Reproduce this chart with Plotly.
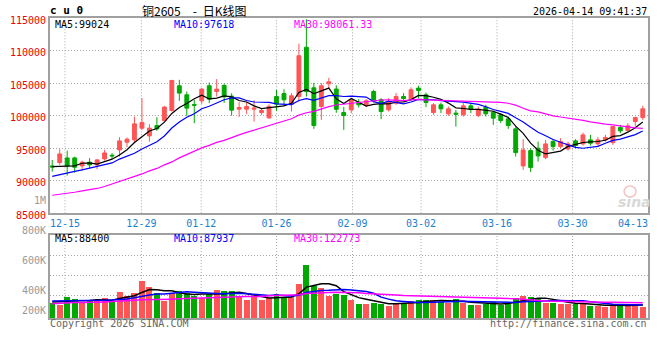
import plotly.graph_objects as go
import pandas as pd

# ---------------- data ----------------
open_ = [92280, 92785, 93508, 93508, 92277, 92846, 92431, 93354, 93923, 94738,
         95923, 96277, 98077, 96892, 98477, 99246, 100785, 104585, 103200, 101700,
         102277, 104585, 103708, 104631, 103000, 101000, 101000, 101000, 100477, 99662,
         102938, 103400, 101738, 102938, 110508, 104277, 101400, 104892, 104092, 100477,
         100892, 102077, 101554, 103708, 102431, 100892, 101923, 102938, 102585, 104231,
         103200, 100477, 101662, 100277, 100385, 100123, 101508, 100015, 101308, 100538,
         100123, 99508, 97969, 92277, 94631, 95000, 93554, 96015, 95246, 94892,
         96123, 95662, 96277, 95662, 96277, 95862, 98169, 97708, 99092, 99708]
high = [93200, 94846, 94631, 93708, 93092, 93462, 93354, 94738, 94231, 96692,
        96631, 99862, 102692, 98692, 99769, 101508, 105508, 105508, 103708, 102431,
        104231, 105092, 105615, 104892, 103431, 102123, 102077, 102354, 101154, 101738,
        103969, 104046, 103462, 111046, 114800, 105046, 105000, 105815, 104662, 101354,
        102692, 102538, 102538, 103969, 102692, 102692, 103462, 103462, 104354, 104585,
        103554, 101923, 102015, 101400, 100892, 101923, 101923, 101400, 101662, 100785,
        100385, 99862, 98323, 96385, 95000, 96015, 96277, 96385, 96538, 96015,
        96385, 97400, 97046, 96692, 97046, 98431, 98585, 98846, 99862, 101508]
low = [91400, 92431, 90785, 91246, 91554, 91862, 91769, 93092, 93354, 93708,
       95154, 95769, 97815, 96015, 97662, 99046, 100631, 102277, 99969, 98846,
       101815, 101923, 102938, 101969, 100000, 99815, 100277, 99092, 100123, 99508,
       100738, 101508, 100631, 102123, 102938, 97969, 99354, 104123, 100431, 97815,
       100385, 101246, 101308, 102015, 99462, 100631, 101662, 102169, 102277, 102692,
       101308, 100123, 100385, 99969, 98323, 99862, 100385, 99769, 99862, 98585,
       98846, 97969, 93708, 91662, 91354, 92938, 93308, 94631, 95000, 94631,
       95000, 95400, 95400, 95354, 96015, 95508, 97308, 97554, 98323, 99354]
close = [92120, 94123, 92277, 92077, 92846, 92431, 93200, 94277, 93815, 96123,
         96385, 98738, 98938, 98077, 97969, 101308, 105400, 103462, 101154, 101600,
         104077, 102538, 104077, 102892, 100846, 101246, 101400, 101154, 100785, 101431,
         101769, 102431, 103046, 109200, 103708, 98477, 104585, 105200, 100969, 100015,
         102431, 101662, 102277, 102277, 100631, 102169, 102938, 102631, 103969, 103862,
         102015, 101662, 101046, 101046, 100231, 101508, 101000, 101000, 100277, 99615,
         99246, 98477, 94323, 94738, 92046, 93815, 95662, 95246, 96015, 95662,
         95400, 97046, 95769, 96277, 96631, 98323, 97662, 98431, 99708, 101046]
volume = [147500, 131000, 210000, 190000, 163000, 170000, 173000, 203000, 167000, 259000,
          223000, 252000, 368000, 309000, 252000, 170000, 252000, 269000, 252000, 220000,
          197000, 240000, 279000, 269000, 269000, 220000, 180000, 213000, 180000, 197000,
          240000, 213000, 213000, 339000, 527000, 319000, 299000, 220000, 240000, 230000,
          180000, 141000, 141000, 153000, 147000, 121000, 147000, 147000, 170000, 180000,
          180000, 180000, 163000, 153000, 187000, 153000, 131000, 131000, 138000, 163000,
          131000, 153000, 203000, 220000, 213000, 197000, 153000, 153000, 141000, 141000,
          141000, 141000, 124000, 124000, 108000, 141000, 124000, 124000, 141000, 114000]

# moving-average values before the window is full
ma5_head = [92169, 92200, 92231, 92277]
ma10_head = [90677, 90892, 91200, 91431, 91662, 91923, 92277, 92508, 92738]
ma30_head = [87769, 87892, 88077, 88231, 88431, 88585, 88815, 89123, 89508, 89815,
             90200, 90585, 91046, 91508, 91892, 92431, 92892, 93508, 94046, 94585,
             95046, 95431, 95892, 96200, 96662, 97046, 97431, 97785, 98154]
vma5_head = [160000, 160000, 163000, 170000]
vma10_head = [168000, 168000, 170000, 170000, 170000, 172000, 172000, 175000, 178000]
vma30_head = [141000, 147000, 153000, 153000, 153000, 153000, 157000, 160000, 163000, 170000,
              173000, 177000, 180000, 180000, 180000, 183000, 187000, 190000, 193000, 197000,
              197000, 200000, 203000, 206000, 210000, 210000, 213000, 213000, 213000]

tick_labels = ["12-15", "12-29", "01-12", "01-26", "02-09", "03-02", "03-16", "03-30", "04-13"]
price_ticks = [85000, 90000, 95000, 100000, 105000, 110000, 115000]
vol_labels = ["1M", "800K", "600K", "400K", "200K"]

# ---------------- styles / layout positions ----------------
RED = "#ff5555"
GREEN = "#00a800"
GRID = "#a8a8a8"
BORDER = "#a0a0a0"
MONO = "DejaVu Sans Mono"
tick_pos = [1.7, 11.93, 19.93, 30.01, 40.17, 49.34, 59.5, 69.61, 77.7]
grid_pos = tick_pos[:8]
XR = [-0.3, 79.7]


def ma(values, w, head):
    s = pd.Series(values, dtype=float).rolling(w).mean()
    s.iloc[:len(head)] = head
    return s.tolist()


n = len(close)
x = list(range(n))
ma5, ma10, ma30 = ma(close, 5, ma5_head), ma(close, 10, ma10_head), ma(close, 30, ma30_head)
vma5, vma10, vma30 = ma(volume, 5, vma5_head), ma(volume, 10, vma10_head), ma(volume, 30, vma30_head)
bar_colors = [RED if c >= o else GREEN for o, c in zip(open_, close)]

fig = go.Figure()
fig.add_trace(go.Candlestick(
    x=x, open=open_, high=high, low=low, close=close,
    increasing=dict(line=dict(color=RED, width=1), fillcolor=RED),
    decreasing=dict(line=dict(color=GREEN, width=1), fillcolor=GREEN),
    xaxis="x", yaxis="y", hoverinfo="skip", showlegend=False))
for vals, col in [(ma5, "#000000"), (ma10, "#0000ff"), (ma30, "#ff00ff")]:
    fig.add_trace(go.Scatter(x=x, y=vals, mode="lines", line=dict(color=col, width=1.2),
                             xaxis="x", yaxis="y", hoverinfo="skip", showlegend=False))
fig.add_trace(go.Bar(x=x, y=volume, marker=dict(color=bar_colors, line=dict(width=0)),
                     width=0.8, xaxis="x2", yaxis="y2", hoverinfo="skip", showlegend=False))
for vals, col in [(vma5, "#000000"), (vma10, "#0000ff"), (vma30, "#ff00ff")]:
    fig.add_trace(go.Scatter(x=x, y=vals, mode="lines", line=dict(color=col, width=1.5),
                             xaxis="x2", yaxis="y2", hoverinfo="skip", showlegend=False))


def PX(p):
    return (p - 50) / 600


def PY(p):
    return (318 - p) / 300


shapes = []
for gx in grid_pos:
    for yr in ["y domain", "y2 domain"]:
        shapes.append(dict(type="line", xref="x", yref=yr, x0=gx, x1=gx, y0=0, y1=1,
                           line=dict(color=GRID, width=1, dash="1px,2px"), layer="below"))
# faint sina logo mark (watermark)
shapes.append(dict(type="circle", xref="paper", yref="paper",
                   x0=PX(626), x1=PX(638), y0=PY(197), y1=PY(186),
                   line=dict(color="#f2c4c4", width=1.5), fillcolor="rgba(0,0,0,0)",
                   layer="below"))

ann = []


def add(text, px, py, anchor, color="#000000", size=10, family=MONO, **kw):
    ann.append(dict(text=text, x=PX(px), y=PY(py), xref="paper", yref="paper",
                    xanchor=anchor, yanchor="middle", showarrow=False,
                    font=dict(family=family, size=size, color=color), **kw))


add("<b>c u 0</b>", 48, 11, "left", size=11)
add("铜2605\u2003-\u2002日K线图", 195, 10.5, "center", size=12, family="Noto Sans CJK SC")
add("2026-04-14 09:41:37", 651, 11.5, "right")
add(f"MA5:{99024}", 53, 24, "left")
add(f"MA10:{97618}", 172, 24, "left", color="#0000ff")
add(f"MA30:{98061.33}", 293, 24, "left", color="#ff00ff")
add(f"MA5:{88400}", 53, 238.5, "left")
add(f"MA10:{87937}", 172, 238.5, "left", color="#0000ff")
add(f"MA30:{122773}", 293, 238.5, "left", color="#ff00ff")
for lbl, py in zip(vol_labels, [200.8, 230.8, 260.6, 290.6, 310.6]):
    add(lbl, 48, py, "right", color="#999999")
add("Copyright 2026 SINA.COM", 48, 323.5, "left", color="#666666")
add("http://finance.sina.com.cn", 651, 323.5, "right", color="#666666")
add("<b><i>sina</i></b>", 636, 202, "center", color="#d8d8d8", size=14, family="DejaVu Sans")

axis_common = dict(showline=True, mirror=True, linecolor=BORDER, linewidth=2,
                   zeroline=False, ticks="", fixedrange=True)

fig.update_layout(
    width=660, height=360,
    margin=dict(l=50, r=10, t=18, b=42),
    paper_bgcolor="white", plot_bgcolor="white",
    showlegend=False, hovermode=False,
    boxgap=0.26, bargap=0,
    annotations=ann, shapes=shapes,
    xaxis=dict(domain=[0, 1], range=XR, anchor="y", tickvals=tick_pos, ticktext=tick_labels,
               tickfont=dict(family=MONO, size=10, color="#1a7fd0"), showgrid=False,
               rangeslider=dict(visible=False), **axis_common),
    yaxis=dict(domain=[0.349, 1], range=[85000, 115000], anchor="x", tickvals=price_ticks,
               ticktext=[str(v) for v in price_ticks],
               tickfont=dict(family=MONO, size=10, color="#f00000"),
               showgrid=True, gridcolor=GRID, griddash="1px,2px", gridwidth=1,
               ticklabelshift=2, **axis_common),
    xaxis2=dict(domain=[0, 1], range=XR, anchor="y2", showticklabels=False, showgrid=False,
                **axis_common),
    yaxis2=dict(domain=[0, 0.2777], range=[0, 827000], anchor="x2",
                tickvals=[225000, 425000, 625000], showticklabels=False,
                showgrid=True, gridcolor=GRID, griddash="1px,2px", gridwidth=1, **axis_common),
)

fig.write_html("out.html", config={"displayModeBar": False},
               post_script="document.body.style.margin='0';document.body.style.padding='0';")
